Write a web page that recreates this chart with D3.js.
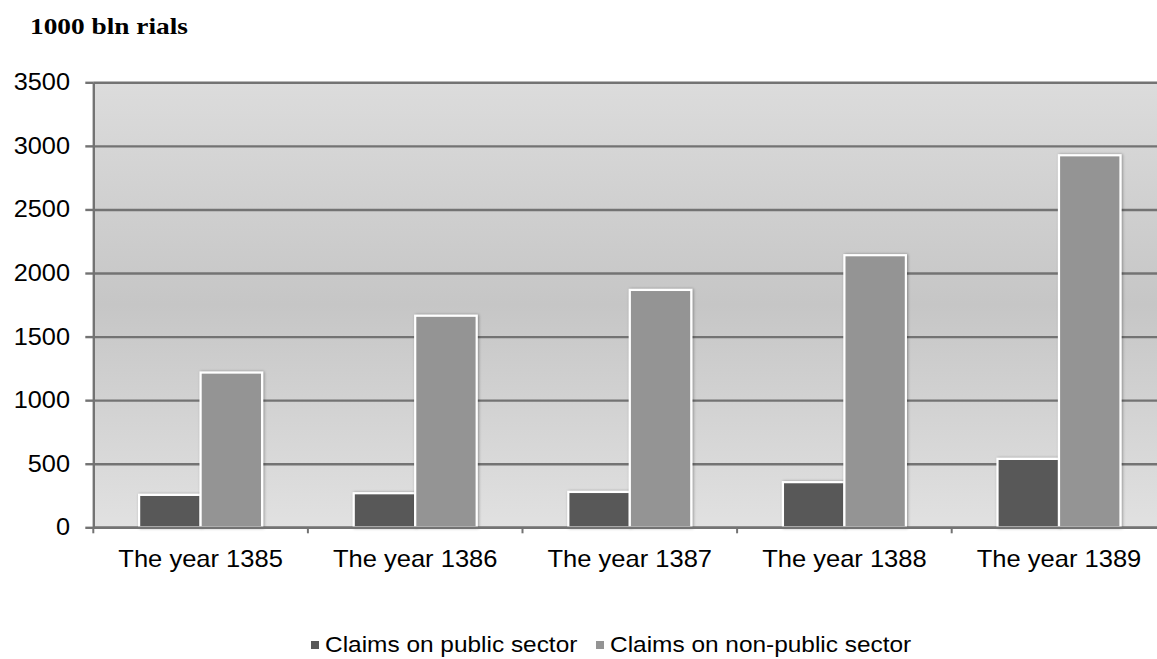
<!DOCTYPE html>
<html><head><meta charset="utf-8">
<script src="https://cdn.jsdelivr.net/npm/d3@7"></script>
<style>html,body{margin:0;padding:0;background:#fff;}svg{display:block;}</style>
</head><body>
<svg id="c" width="1157" height="659"></svg>
<script>
const categories = ["The year 1385","The year 1386","The year 1387","The year 1388","The year 1389"];
const seriesNames = ["Claims on public sector","Claims on non-public sector"];
const publicSector = [255, 268, 278, 355, 538];
const nonPublicSector = [1217, 1664, 1867, 2140, 2926];
const yTicks = [0,500,1000,1500,2000,2500,3000,3500];
const colors = ["#595959","#949494"];
const title = "1000 bln rials";

(function(){
const svg = d3.select("#c");
const pLeft = 93.3, pRight = 1166.3, pTop = 82.3, pBottom = 527.3;
const SX = 1.11;

const defs = svg.append("defs");
const grad = defs.append("linearGradient").attr("id","bg").attr("x1",0).attr("y1",0).attr("x2",0).attr("y2",1);
grad.append("stop").attr("offset","0%").attr("stop-color","#dcdcdc");
grad.append("stop").attr("offset","50%").attr("stop-color","#c6c6c6");
grad.append("stop").attr("offset","100%").attr("stop-color","#e1e1e1");
const f = defs.append("filter").attr("id","sh").attr("x","-20%").attr("y","-20%").attr("width","140%").attr("height","140%");
f.append("feGaussianBlur").attr("in","SourceAlpha").attr("stdDeviation",1.5).attr("result","b");
f.append("feOffset").attr("in","b").attr("dx",1).attr("dy",0).attr("result","o");
f.append("feComponentTransfer").attr("in","o").attr("result","o2").append("feFuncA").attr("type","linear").attr("slope",0.35);
const m = f.append("feMerge"); m.append("feMergeNode").attr("in","o2"); m.append("feMergeNode").attr("in","SourceGraphic");

const y = d3.scaleLinear().domain([0,3500]).range([pBottom, pTop]);
const x0 = d3.scaleBand().domain(categories).range([pLeft, pRight]).padding(0);
const bw = x0.bandwidth();
const x1 = d3.scaleBand().domain(seriesNames).range([bw*0.2135, bw*0.7865]).padding(0);

svg.append("rect").attr("x",pLeft).attr("y",pTop).attr("width",pRight-pLeft).attr("height",pBottom-pTop).attr("fill","url(#bg)");

svg.append("g").attr("transform",`translate(${pLeft},0)`)
  .call(d3.axisLeft(y).tickValues(yTicks).tickSize(-(pRight-pLeft)).tickFormat(""))
  .call(g=>g.select(".domain").remove())
  .call(g=>g.selectAll("line").attr("stroke","#737373").attr("stroke-width",2.4));

svg.append("g").attr("transform",`translate(${pLeft},0)`)
  .call(d3.axisLeft(y).tickValues(yTicks).tickSize(8).tickSizeOuter(0).tickFormat(""))
  .call(g=>g.select(".domain").attr("stroke","#737373").attr("stroke-width",2.4))
  .call(g=>g.selectAll("line").attr("stroke","#737373").attr("stroke-width",2.4));

const data = categories.map((c,i)=>({c, vals:[publicSector[i], nonPublicSector[i]]}));
const grp = svg.append("g").selectAll("g").data(data).join("g").attr("transform",d=>`translate(${x0(d.c)},0)`);
grp.selectAll("rect").data(d=>d.vals.map((v,j)=>({v, s:seriesNames[j], j}))).join("rect")
  .attr("x",d=>x1(d.s)).attr("y",d=>y(d.v)).attr("width",x1.bandwidth()).attr("height",d=>y(0)-y(d.v))
  .attr("fill",d=>colors[d.j]).attr("stroke","#ffffff").attr("stroke-width",2.2).attr("filter","url(#sh)");

svg.append("g").attr("transform",`translate(0,${pBottom})`)
  .call(d3.axisBottom(x0).tickSize(0).tickFormat(""))
  .call(g=>g.select(".domain").attr("stroke","#737373").attr("stroke-width",2.4));
const bounds = [...categories.map(c=>x0(c)), pRight];
svg.append("g").selectAll("line").data(bounds).join("line")
  .attr("x1",d=>d).attr("x2",d=>d).attr("y1",pBottom).attr("y2",pBottom+6)
  .attr("stroke","#737373").attr("stroke-width",2);

function stext(g, x, yy, txt, size, anchor, opts={}) {
  const t = g.append("text").attr("transform",`translate(${x},${yy}) scale(${opts.sx||SX},1)`)
    .attr("text-anchor",anchor).attr("font-family",opts.family||"'Liberation Sans', Arial, sans-serif")
    .attr("font-size",size).attr("fill","#000").text(txt);
  if (opts.bold) t.attr("font-weight","bold");
  return t;
}
const lab = svg.append("g");
yTicks.forEach(v=> stext(lab, 70, y(v)+8, String(v), 23, "end", {sx:1.1}));
categories.forEach(c=> stext(lab, x0(c)+bw/2, 566.5, c, 23, "middle", {sx:1.11}));
stext(lab, 30, 34, title, 24, "start", {family:"'Liberation Serif','Times New Roman',serif", bold:true, sx:1.14});

const legX = [311, 596], legTX = [325, 610];
seriesNames.forEach((s,i)=>{
  svg.append("rect").attr("x",legX[i]).attr("y",641).attr("width",8).attr("height",8).attr("fill",colors[i]);
  stext(svg, legTX[i], 652, s, 22, "start", {sx:1.11});
});
})();
</script>
</body></html>
